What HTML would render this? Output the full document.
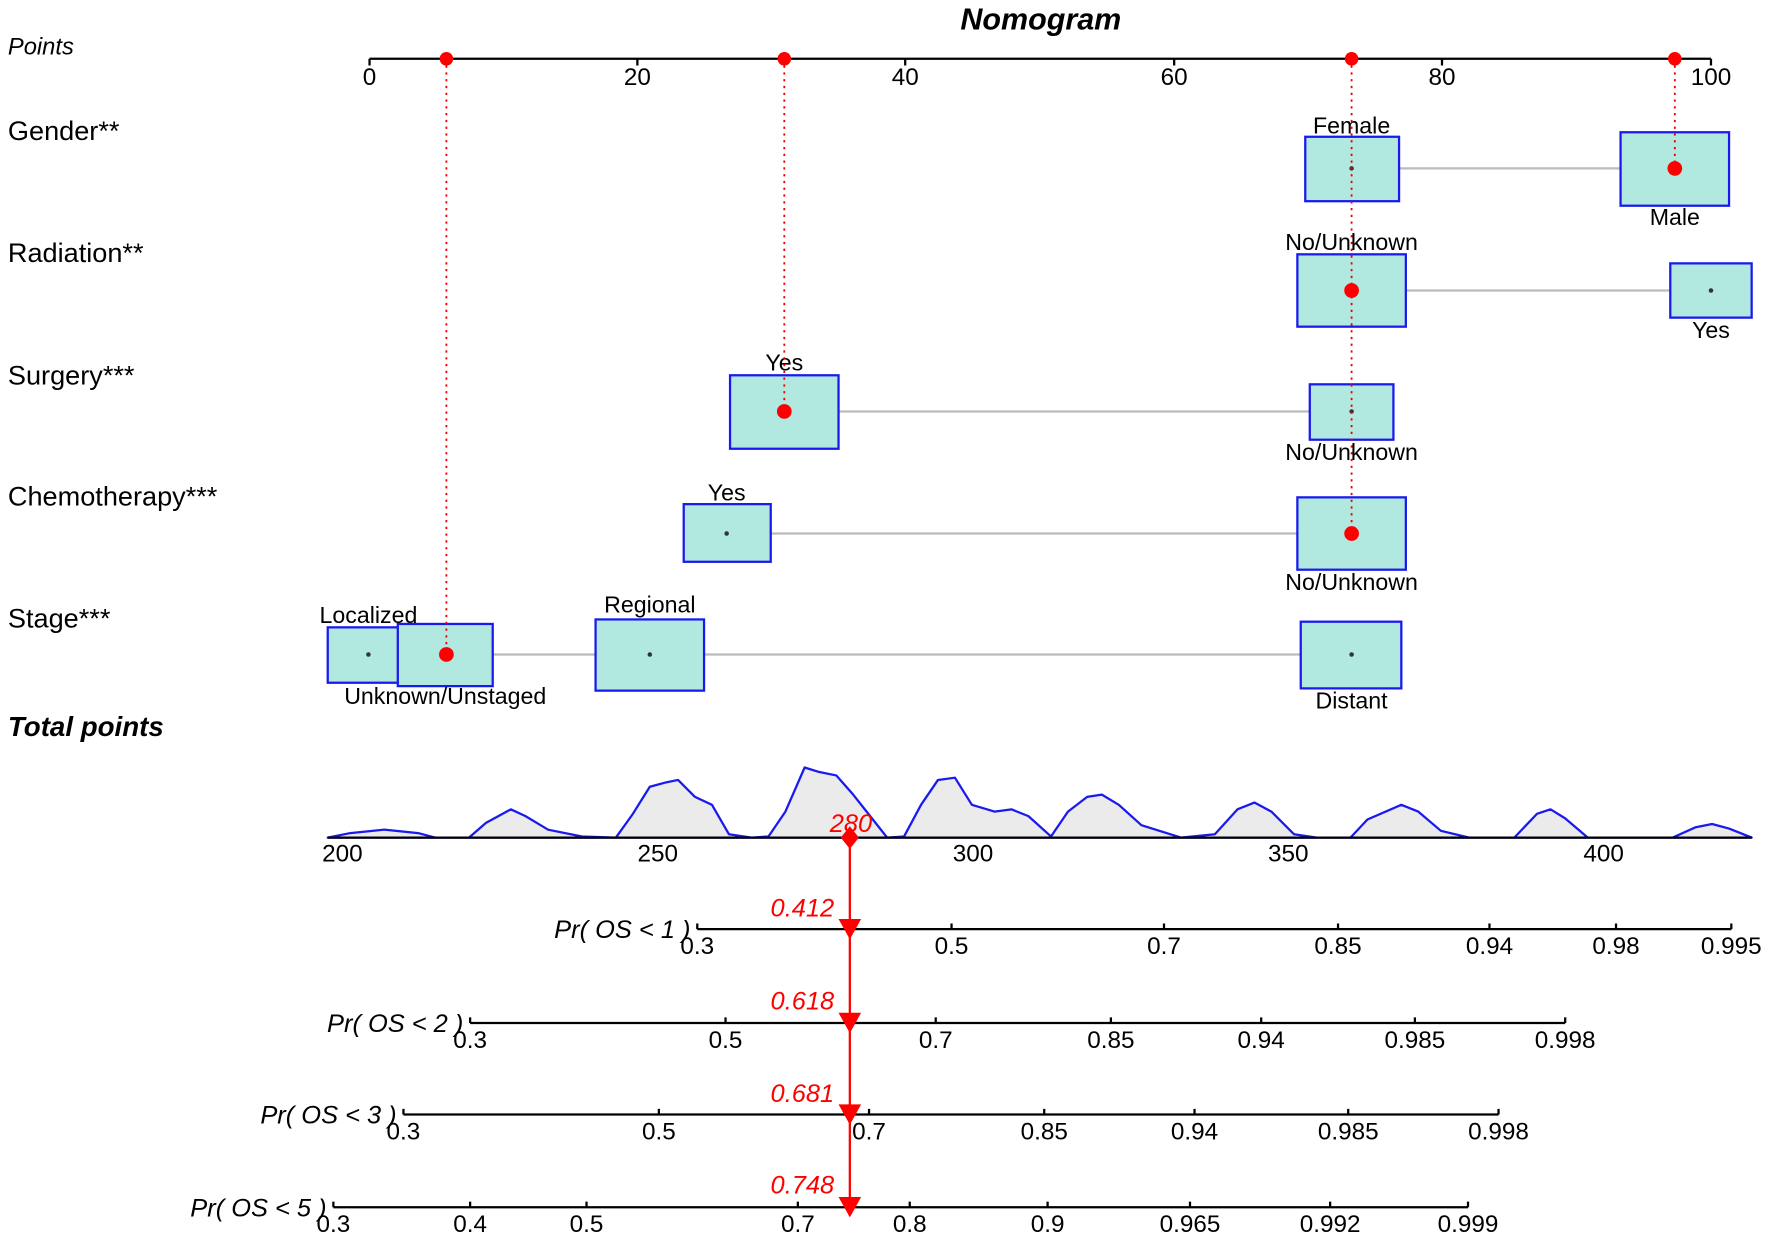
<!DOCTYPE html>
<html><head><meta charset="utf-8"><style>html,body{margin:0;padding:0;background:#fff}svg{display:block}</style></head>
<body>
<svg width="1772" height="1240" viewBox="0 0 1568 1097" preserveAspectRatio="none" xmlns="http://www.w3.org/2000/svg" font-family="Liberation Sans, Arial, sans-serif">
<rect width="1568" height="1097" fill="#fff"/>
<text x="921" y="26" font-size="27" font-weight="bold" font-style="italic" text-anchor="middle">Nomogram</text>
<text x="7" y="48" font-size="21" font-style="italic">Points</text>
<g stroke="#000" stroke-width="2" fill="none">
<line x1="327" y1="52" x2="1514" y2="52"/>
<path d="M327 52v6M564 52v6M801 52v6M1039 52v6M1276 52v6M1514 52v6"/>
</g>
<g font-size="21.5" text-anchor="middle">
<text x="327" y="75">0</text><text x="564" y="75">20</text><text x="801" y="75">40</text><text x="1039" y="75">60</text><text x="1276" y="75">80</text><text x="1514" y="75">100</text>
</g>
<g font-size="24">
<text x="7" y="124">Gender**</text><text x="7" y="232">Radiation**</text><text x="7" y="340">Surgery***</text><text x="7" y="447">Chemotherapy***</text><text x="7" y="555">Stage***</text>
</g>
<text x="7" y="651" font-size="24.5" font-weight="bold" font-style="italic">Total points</text>
<g stroke="#bbb" stroke-width="2">
<line x1="1238" y1="149" x2="1434" y2="149"/>
<line x1="1244" y1="257" x2="1478" y2="257"/>
<line x1="742" y1="364" x2="1159" y2="364"/>
<line x1="682" y1="472" x2="1148" y2="472"/>
<line x1="436" y1="579" x2="1151" y2="579"/>
</g>
<g fill="#b1e8e0" stroke="#1a1aee" stroke-width="2">
<rect x="1155" y="121" width="83" height="57"/><rect x="1434" y="117" width="96" height="65"/>
<rect x="1148" y="225" width="96" height="64"/><rect x="1478" y="233" width="72" height="48"/>
<rect x="646" y="332" width="96" height="65"/><rect x="1159" y="340" width="74" height="49"/>
<rect x="605" y="446" width="77" height="51"/><rect x="1148" y="440" width="96" height="64"/>
<rect x="290" y="555" width="74" height="49"/><rect x="352" y="552" width="84" height="55"/>
<rect x="527" y="548" width="96" height="63"/><rect x="1151" y="550" width="89" height="59"/>
</g>
<g fill="#333"><circle cx="1196" cy="149" r="2"/><circle cx="1514" cy="257" r="2"/><circle cx="1196" cy="364" r="2"/><circle cx="643" cy="472" r="2"/><circle cx="326" cy="579" r="2"/><circle cx="575" cy="579" r="2"/><circle cx="1196" cy="579" r="2"/></g>
<g font-size="20.5" text-anchor="middle">
<text x="1196" y="118">Female</text><text x="1482" y="199">Male</text>
<text x="1196" y="221">No/Unknown</text><text x="1514" y="299">Yes</text>
<text x="694" y="328">Yes</text><text x="1196" y="407">No/Unknown</text>
<text x="643" y="443">Yes</text><text x="1196" y="522">No/Unknown</text>
<text x="326" y="551">Localized</text><text x="394" y="623">Unknown/Unstaged</text><text x="575" y="542">Regional</text><text x="1196" y="627">Distant</text>
</g>
<g stroke="#e00" stroke-width="1.6" stroke-dasharray="2,4">
<line x1="395" y1="52" x2="395" y2="579"/><line x1="694" y1="52" x2="694" y2="364"/><line x1="1196" y1="52" x2="1196" y2="472"/><line x1="1482" y1="52" x2="1482" y2="149"/>
</g>
<g fill="#f00">
<circle cx="395" cy="52" r="6"/><circle cx="694" cy="52" r="6"/><circle cx="1196" cy="52" r="6"/><circle cx="1482" cy="52" r="6"/>
<circle cx="1482" cy="149" r="6.5"/><circle cx="1196" cy="257" r="6.5"/><circle cx="694" cy="364" r="6.5"/><circle cx="1196" cy="472" r="6.5"/><circle cx="395" cy="579" r="6.5"/>
</g>
<path fill="#ebebeb" stroke="#1a1aee" stroke-width="2" stroke-linejoin="round" d="M290 741 L310 737 L340 734 L370 737 L385 741 L415 741 L430 728 L452 716 L465 722 L485 734 L515 740 L545 741 L560 720 L575 696 L590 692 L600 690 L615 705 L630 712 L645 738 L665 741 L680 740 L695 718 L712 679 L725 683 L740 686 L755 703 L770 722 L785 741 L800 740 L815 712 L830 690 L845 688 L860 712 L880 718 L895 716 L910 722 L930 740 L945 718 L962 705 L975 703 L990 712 L1010 730 L1045 741 L1075 738 L1095 716 L1110 710 L1125 718 L1145 738 L1165 741 L1195 741 L1210 725 L1240 712 L1255 718 L1275 735 L1300 741 L1340 741 L1360 720 L1372 716 L1385 724 L1405 741 L1480 741 L1500 732 L1515 729 L1530 733 L1550 741 Z"/>
<g stroke="#000" stroke-width="2" fill="none">
<line x1="290" y1="741" x2="1550" y2="741"/>
<line x1="617" y1="822" x2="1532" y2="822"/>
<path d="M617 822v-5M842 822v-5M1030 822v-5M1184 822v-5M1318 822v-5M1430 822v-5M1532 822v-5"/>
<line x1="416" y1="905" x2="1385" y2="905"/>
<path d="M416 905v-5M642 905v-5M828 905v-5M983 905v-5M1116 905v-5M1252 905v-5M1385 905v-5"/>
<line x1="357" y1="986" x2="1326" y2="986"/>
<path d="M357 986v-5M583 986v-5M769 986v-5M924 986v-5M1057 986v-5M1193 986v-5M1326 986v-5"/>
<line x1="295" y1="1068" x2="1299" y2="1068"/>
<path d="M295 1068v-5M416 1068v-5M519 1068v-5M706 1068v-5M805 1068v-5M927 1068v-5M1053 1068v-5M1177 1068v-5M1299 1068v-5"/>
</g>
<g font-size="21.5" text-anchor="middle">
<text x="303" y="762">200</text><text x="582" y="762">250</text><text x="861" y="762">300</text><text x="1140" y="762">350</text><text x="1419" y="762">400</text>
<text x="617" y="844">0.3</text><text x="842" y="844">0.5</text><text x="1030" y="844">0.7</text><text x="1184" y="844">0.85</text><text x="1318" y="844">0.94</text><text x="1430" y="844">0.98</text><text x="1532" y="844">0.995</text>
<text x="416" y="927">0.3</text><text x="642" y="927">0.5</text><text x="828" y="927">0.7</text><text x="983" y="927">0.85</text><text x="1116" y="927">0.94</text><text x="1252" y="927">0.985</text><text x="1385" y="927">0.998</text>
<text x="357" y="1008">0.3</text><text x="583" y="1008">0.5</text><text x="769" y="1008">0.7</text><text x="924" y="1008">0.85</text><text x="1057" y="1008">0.94</text><text x="1193" y="1008">0.985</text><text x="1326" y="1008">0.998</text>
<text x="295" y="1090">0.3</text><text x="416" y="1090">0.4</text><text x="519" y="1090">0.5</text><text x="706" y="1090">0.7</text><text x="805" y="1090">0.8</text><text x="927" y="1090">0.9</text><text x="1053" y="1090">0.965</text><text x="1177" y="1090">0.992</text><text x="1299" y="1090">0.999</text>
</g>
<g font-size="22.5" font-style="italic" text-anchor="end">
<text x="611" y="830">Pr( OS &lt; 1 )</text><text x="410" y="913">Pr( OS &lt; 2 )</text><text x="351" y="994">Pr( OS &lt; 3 )</text><text x="289" y="1076">Pr( OS &lt; 5 )</text>
</g>
<line x1="752" y1="741" x2="752" y2="1068" stroke="#f00" stroke-width="2"/>
<g fill="#f00">
<path d="M752 731 L760 741 L752 751 L744 741Z"/>
<path d="M742 813 L762 813 L752 831Z"/><path d="M742 896 L762 896 L752 914Z"/><path d="M742 977 L762 977 L752 995Z"/><path d="M742 1059 L762 1059 L752 1077Z"/>
</g>
<g font-size="22.5" font-style="italic" fill="#f00" text-anchor="middle">
<text x="753" y="736">280</text><text x="710" y="811">0.412</text><text x="710" y="893">0.618</text><text x="710" y="975">0.681</text><text x="710" y="1056">0.748</text>
</g>
</svg>
</body></html>
